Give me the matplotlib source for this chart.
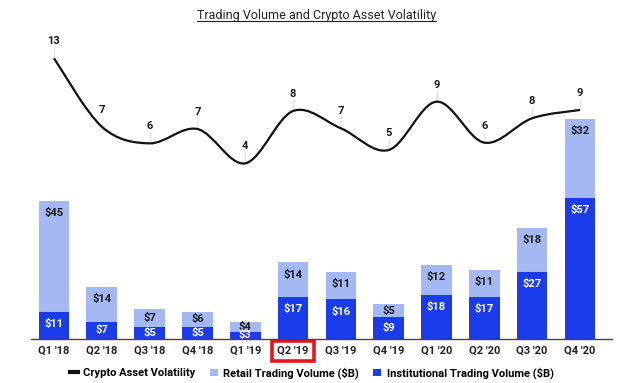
import matplotlib
matplotlib.use('Agg')
import matplotlib.pyplot as plt
from matplotlib.path import Path
from matplotlib.patches import PathPatch, Patch
from matplotlib.lines import Line2D
import numpy as np

plt.rcParams['font.family'] = ['Roboto', 'DejaVu Sans']

quarters = ["Q1 '18", "Q2 '18", "Q3 '18", "Q4 '18", "Q1 '19", "Q2 '19",
            "Q3 '19", "Q4 '19", "Q1 '20", "Q2 '20", "Q3 '20", "Q4 '20"]
institutional = [11, 7, 5, 5, 3, 17, 16, 9, 18, 17, 27, 57]
retail = [45, 14, 7, 6, 4, 14, 11, 5, 12, 11, 18, 32]
volatility = [13.0, 7.14, 5.71, 6.94, 4.0, 8.48, 7.0, 5.14, 9.28, 5.77, 7.86, 8.57]

inst_color = '#1a3ceb'
retail_color = '#a4b8f4'

fig = plt.figure(figsize=(6.4, 3.83), dpi=100)
W, H = 640, 383
left, right, top, bottom = 31, 612, 30, 339
ax = fig.add_axes([left / W, 1 - bottom / H, (right - left) / W, (bottom - top) / H])

x = np.arange(len(quarters))
ax.bar(x, institutional, width=0.64, color=inst_color, zorder=2)
ax.bar(x, retail, width=0.64, bottom=institutional, color=retail_color, zorder=2)
ax.set_xlim(-0.48, 11.67)
ax.set_ylim(0, 125.1)

# bar labels: near the top of each segment, centred if the segment is small
for i in range(len(x)):
    inst_top = institutional[i]
    tot = institutional[i] + retail[i]
    y_r = tot - 4.9 if retail[i] > 9.8 else institutional[i] + retail[i] / 2
    ax.text(i, y_r, f"${retail[i]}", ha='center', va='center', fontsize=8,
            fontweight='bold', color='#1a1a1a', zorder=4)
    y_i = inst_top - 4.9 if inst_top > 9.8 else inst_top / 2
    ax.text(i, y_i, f"${institutional[i]}", ha='center', va='center', fontsize=8,
            fontweight='bold', color='white', zorder=4)

for s in ['top', 'right', 'left']:
    ax.spines[s].set_visible(False)
ax.spines['bottom'].set_color('#444444')
ax.spines['bottom'].set_linewidth(1.0)
ax.set_yticks([])
ax.set_xticks(x)
ax.set_xticklabels(quarters, fontsize=8, fontweight='bold', color='#222222')
ax.tick_params(axis='x', length=0, pad=5)
lbl = ax.get_xticklabels()[5]
lbl.set_bbox(dict(boxstyle='square,pad=0.45', facecolor='none', edgecolor='#e8141b', linewidth=2.6))

# volatility line on a second scale
ax2 = ax.twinx()
ax2.set_ylim(-11.05, 15.42)
ax2.axis('off')

# smooth curve through the points (Catmull-Rom as cubic Bezier)
pts = np.column_stack([x, volatility])
verts = [tuple(pts[0])]
codes = [Path.MOVETO]
n = len(pts)
for i in range(n - 1):
    p0 = pts[i - 1] if i > 0 else pts[i]
    p1 = pts[i]
    p2 = pts[i + 1]
    p3 = pts[i + 2] if i + 2 < n else pts[i + 1]
    c1 = p1 + (p2 - p0) / 6
    c2 = p2 - (p3 - p1) / 6
    verts += [tuple(c1), tuple(c2), tuple(p2)]
    codes += [Path.CURVE4, Path.CURVE4, Path.CURVE4]
ax2.add_patch(PathPatch(Path(verts, codes), facecolor='none', edgecolor='#111111',
                        linewidth=1.6, zorder=3))

px_per_unit = (bottom - top) / (15.42 + 11.05)
for i, v in enumerate(volatility):
    lab_y = v + 17 / px_per_unit
    ax2.plot([i, i], [v, v + 11 / px_per_unit], color='#dddddd', linewidth=0.6, zorder=1)
    ax2.text(i, lab_y, f"{round(v)}", ha='center', va='center', fontsize=8,
             fontweight='bold', color='#1a1a1a')

# title with underline
title = fig.text(0.495, 1 - 16 / H, 'Trading Volume and Crypto Asset Volatility',
                 ha='center', va='center', fontsize=9, color='#222222')

handles = [Line2D([0], [0], color='#111111', linewidth=3),
           Patch(facecolor=retail_color, edgecolor='none'),
           Patch(facecolor=inst_color, edgecolor='none')]
labels = ['Crypto Asset Volatility', 'Retail Trading Volume ($B)',
          'Institutional Trading Volume ($B)']
fig.legend(handles, labels, loc='center', bbox_to_anchor=(0.487, 1 - 373 / H),
           ncol=3, frameon=False, handlelength=0.7, handleheight=0.7,
           handletextpad=0.5, columnspacing=1.3, prop={'weight': 'bold', 'size': 8})

fig.canvas.draw()
bb = title.get_window_extent().transformed(fig.transFigure.inverted())
fig.add_artist(Line2D([bb.x0, bb.x1], [bb.y0 + 0.004, bb.y0 + 0.004],
                      color='#222222', linewidth=0.8, transform=fig.transFigure))

fig.savefig('out.png', dpi=100)
